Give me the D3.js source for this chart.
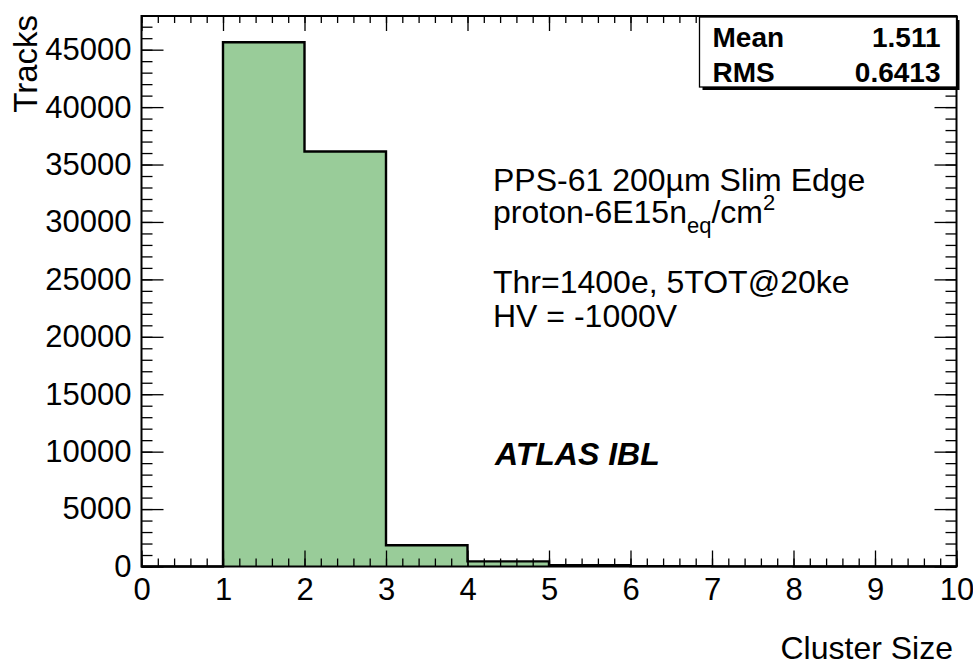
<!DOCTYPE html>
<html>
<head>
<meta charset="utf-8">
<script src="https://cdn.jsdelivr.net/npm/d3@7"></script>
<style>
  body { margin: 0; background: #fff; }
  svg { display: block; font-family: "Liberation Sans", Arial, Helvetica, sans-serif; }
</style>
</head>
<body>
<svg width="973" height="664"></svg>
<script>
// ---- Dados
const binLow = [0, 1, 2, 3, 4, 5, 6, 7, 8, 9];
const tracks = [0, 45650, 36140, 1850, 450, 120, 30, 8, 3, 1];
const xTicks = [0, 1, 2, 3, 4, 5, 6, 7, 8, 9, 10];
const yTicks = [0, 5000, 10000, 15000, 20000, 25000, 30000, 35000, 40000, 45000];
const statNames = ['Mean', 'RMS'];
const statValues = ['1.511', '0.6413'];
const infoLines = ['PPS-61 200µm Slim Edge', 'proton-6E15n_eq/cm^2', '', 'Thr=1400e, 5TOT@20ke', 'HV = -1000V'];

const svg = d3.select('svg');
const margens = { left: 141.5, right: 16.5, top: 16, bottom: 97.5 };
const width = +svg.attr('width');
const height = +svg.attr('height');
const innerWidth = width - margens.left - margens.right;
const innerHeight = height - margens.top - margens.bottom;

// ---- Escalas
const mapX = d3.scaleLinear().domain([0, 10]).range([0, innerWidth]);
const mapY = d3.scaleLinear().domain([0, d3.max(tracks) * 1.05]).range([innerHeight, 0]);

const g = svg.append('g').attr('transform', `translate(${margens.left}, ${margens.top})`);

// ---- Histograma (contorno em degraus)
const pts = [];
binLow.forEach((b, i) => {
    pts.push([mapX(b), mapY(tracks[i])]);
    pts.push([mapX(b + 1), mapY(tracks[i])]);
});
const area = [[mapX(0), mapY(0)], ...pts, [mapX(10), mapY(0)]];

g.append('path')
    .attr('d', d3.line()(area))
    .attr('fill', '#99cc99')
    .attr('stroke', 'none');

// ---- Eixos (ticks para dentro, estilo ROOT)
const minorX = d3.range(0, 10.001, 0.2);
const minorY = d3.range(0, d3.max(tracks) * 1.05, 1000);

function styleAxis(sel) {
    sel.select('.domain').remove();
    sel.selectAll('line').attr('stroke', '#000').attr('stroke-width', 1.3);
    sel.selectAll('text').attr('fill', '#000').style('font-size', '31px').attr('font-family', null);
}
// eixos só com ticks: sem textos vazios
function ticksOnly(sel) {
    styleAxis(sel);
    sel.selectAll('text').remove();
}

g.append('g').attr('transform', `translate(0, ${innerHeight})`)
    .call(d3.axisBottom(mapX).tickValues(minorX).tickSize(-8))
    .call(ticksOnly);
g.append('g').attr('transform', `translate(0, ${innerHeight})`)
    .call(d3.axisBottom(mapX).tickValues(xTicks).tickSize(-16).tickPadding(11).tickFormat(d3.format('d')))
    .call(styleAxis);
g.append('g')
    .call(d3.axisTop(mapX).tickValues(minorX).tickSize(-7))
    .call(ticksOnly);
g.append('g')
    .call(d3.axisTop(mapX).tickValues(xTicks).tickSize(-15))
    .call(ticksOnly);

g.append('g')
    .call(d3.axisLeft(mapY).tickValues(minorY).tickSize(-11))
    .call(ticksOnly);
g.append('g')
    .call(d3.axisLeft(mapY).tickValues(yTicks).tickSize(-22).tickPadding(10).tickFormat(d3.format('d')))
    .call(styleAxis);
g.append('g').attr('transform', `translate(${innerWidth}, 0)`)
    .call(d3.axisRight(mapY).tickValues(minorY).tickSize(-11))
    .call(ticksOnly);
g.append('g').attr('transform', `translate(${innerWidth}, 0)`)
    .call(d3.axisRight(mapY).tickValues(yTicks).tickSize(-22))
    .call(ticksOnly);

// contorno do histograma por cima dos ticks
g.append('path')
    .attr('d', d3.line()(area))
    .attr('fill', 'none')
    .attr('stroke', '#000')
    .attr('stroke-width', 2.4);

// moldura
g.append('rect')
    .attr('width', innerWidth)
    .attr('height', innerHeight)
    .attr('fill', 'none')
    .attr('stroke', '#000')
    .attr('stroke-width', 2);

// ---- Rótulos dos eixos
svg.append('text')
    .attr('x', 953)
    .attr('y', 659)
    .attr('text-anchor', 'end')
    .style('font-size', '32px')
    .text('Cluster Size');

svg.append('text')
    .attr('transform', 'translate(37, 15) rotate(-90)')
    .attr('text-anchor', 'end')
    .style('font-size', '33px')
    .text('Tracks');

// ---- Caixa de estatísticas
const box = svg.append('g').attr('transform', `translate(${margens.left + innerWidth - 257}, ${margens.top + 1})`);
box.append('rect').attr('x', 3).attr('y', 3).attr('width', 257).attr('height', 70).attr('fill', '#000');
box.append('rect').attr('width', 257).attr('height', 70).attr('fill', '#fff').attr('stroke', '#000').attr('stroke-width', 1.3);
statNames.forEach((n, i) => {
    box.append('text').attr('x', 13).attr('y', 30 + i * 35)
        .style('font-size', '28px').style('font-weight', 'bold').text(n);
    box.append('text').attr('x', 241).attr('y', 30 + i * 35)
        .attr('text-anchor', 'end')
        .style('font-size', '28px').style('font-weight', 'bold').text(statValues[i]);
});

// ---- Texto informativo
const infoY = [191, 223, 258, 293, 327];
infoLines.forEach((l, i) => {
    if (!l) return;
    const t = svg.append('text').attr('x', 493).attr('y', infoY[i]).style('font-size', '32px');
    if (l.includes('_eq')) {
        const [a, rest] = l.split('_eq');
        const [b, c] = rest.split('^');
        t.append('tspan').text(a);
        t.append('tspan').attr('dy', 10).style('font-size', '22px').text('eq');
        t.append('tspan').attr('dy', -10).text(b);
        t.append('tspan').attr('dy', -13).style('font-size', '22px').text(c);
    } else {
        t.text(l);
    }
});

svg.append('text')
    .attr('x', 495)
    .attr('y', 465)
    .style('font-size', '32px')
    .style('font-weight', 'bold')
    .style('font-style', 'italic')
    .text('ATLAS IBL');
</script>
</body>
</html>
